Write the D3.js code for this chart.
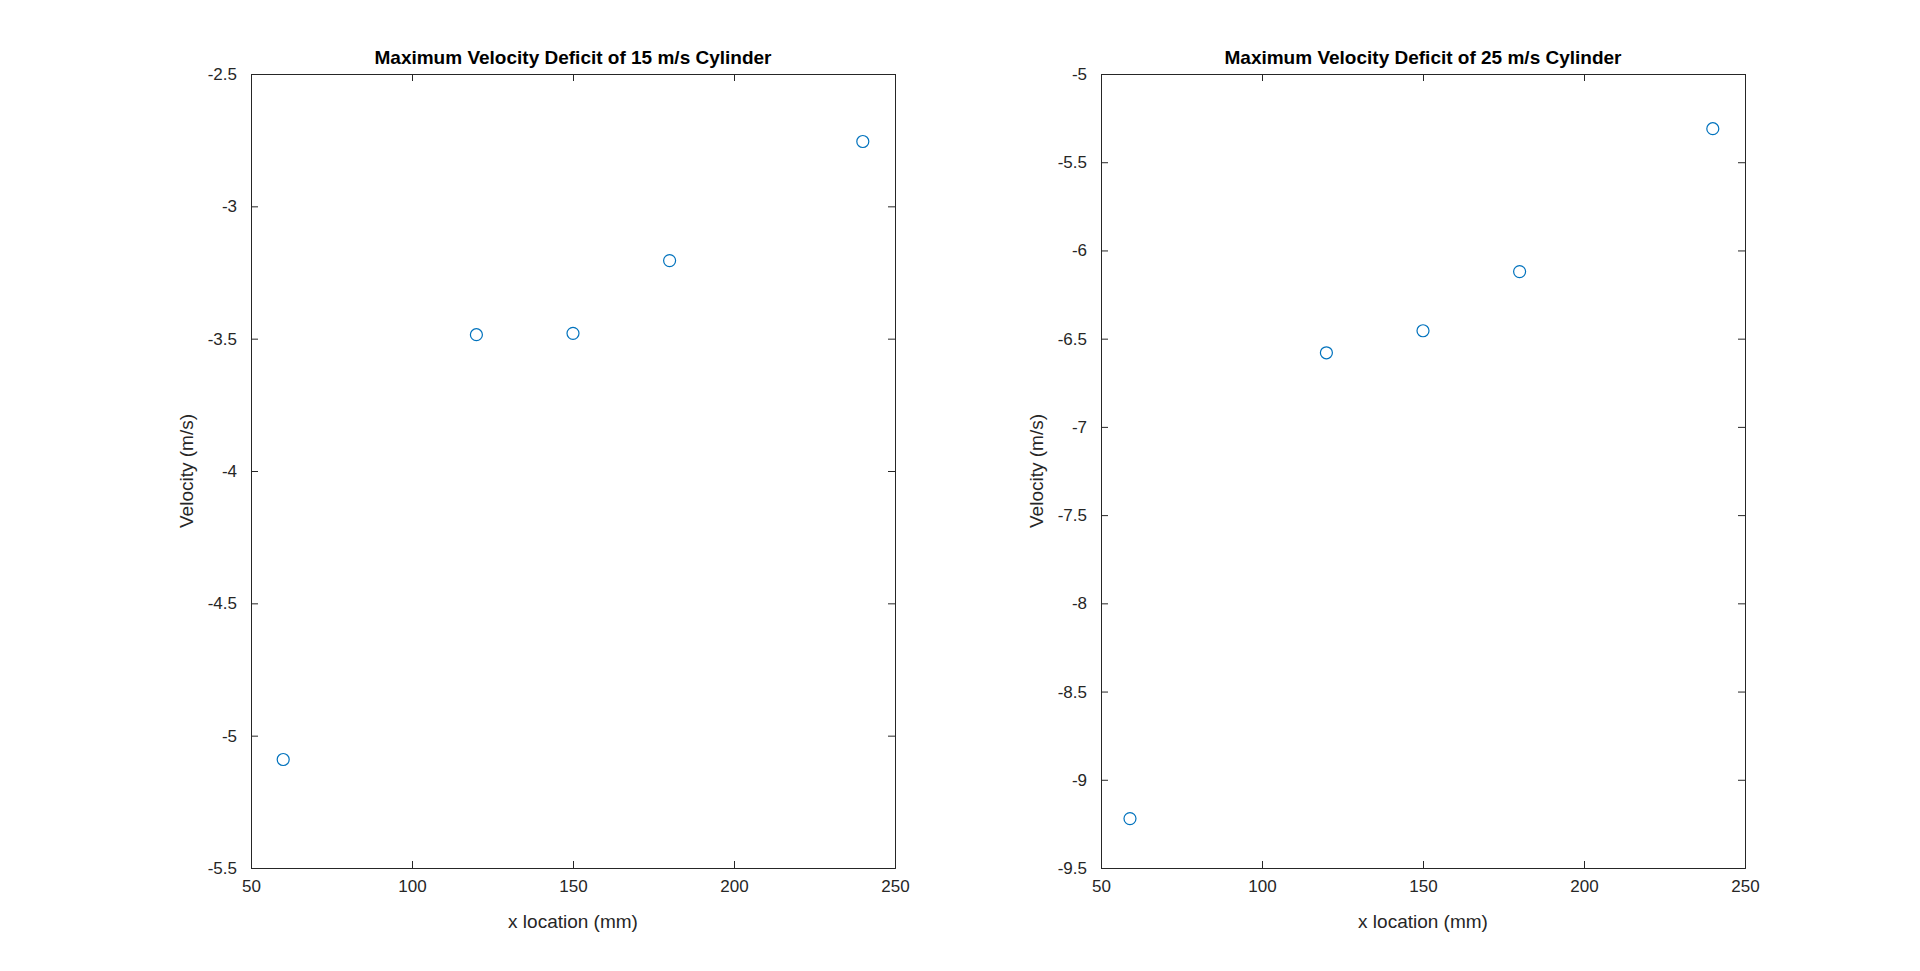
<!DOCTYPE html>
<html><head><meta charset="utf-8">
<script src="https://cdn.jsdelivr.net/npm/d3@7"></script>
<style>body{margin:0;background:#fff}svg{display:block}text{font-family:"Liberation Sans",Arial,sans-serif}</style>
</head><body><div id="chart"></div>
<script>
var xs1 = [60, 120, 150, 180, 240];
var ys1 = [-5.09, -3.485, -3.48, -3.205, -2.755];
var xs2 = [59, 120, 150, 180, 240];
var ys2 = [-9.22, -6.58, -6.455, -6.12, -5.31];
var titles = ["Maximum Velocity Deficit of 15 m/s Cylinder", "Maximum Velocity Deficit of 25 m/s Cylinder"];
var xDomain = [50, 250];
var yDomains = [[-5.5, -2.5], [-9.5, -5]];
var yTicks = [[-5.5,-5,-4.5,-4,-3.5,-3,-2.5], [-9.5,-9,-8.5,-8,-7.5,-7,-6.5,-6,-5.5,-5]];
var xTicks = [50, 100, 150, 200, 250];

var svg = d3.select("#chart").append("svg").attr("width", 1920).attr("height", 971);
var panels = [{left: 251, xs: xs1, ys: ys1}, {left: 1101, xs: xs2, ys: ys2}];
var plotW = 644, plotTop = 74, plotH = 794;

panels.forEach(function(p, i) {
  var g = svg.append("g").attr("transform", "translate(" + p.left + "," + plotTop + ")");
  var x = d3.scaleLinear().domain(xDomain).range([0, plotW]);
  var y = d3.scaleLinear().domain(yDomains[i]).range([plotH, 0]);
  var fmt = function(d) { return String(d); };

  g.append("g").attr("transform", "translate(0," + plotH + ")")
    .call(d3.axisBottom(x).tickValues(xTicks).tickSize(-7).tickPadding(12).tickFormat(fmt));
  g.append("g").call(d3.axisTop(x).tickValues(xTicks).tickSize(-7).tickFormat(""));
  g.append("g").call(d3.axisLeft(y).tickValues(yTicks[i]).tickSize(-7).tickPadding(14).tickFormat(fmt));
  g.append("g").attr("transform", "translate(" + plotW + ",0)")
    .call(d3.axisRight(y).tickValues(yTicks[i]).tickSize(-7).tickFormat(""));
  g.selectAll(".domain").attr("stroke", "#262626");
  g.selectAll(".tick line").attr("stroke", "#262626");
  g.selectAll(".tick text").attr("font-size", 17).attr("fill", "#262626");

  g.append("text").attr("x", plotW / 2).attr("y", -10).attr("text-anchor", "middle")
    .attr("font-size", 19).attr("font-weight", "bold").attr("fill", "#000").text(titles[i]);
  g.append("text").attr("x", plotW / 2).attr("y", plotH + 60).attr("text-anchor", "middle")
    .attr("font-size", 19).attr("fill", "#262626").text("x location (mm)");
  g.append("text").attr("transform", "translate(-58," + (plotH / 2) + ") rotate(-90)")
    .attr("text-anchor", "middle").attr("font-size", 19).attr("fill", "#262626").text("Velocity (m/s)");

  g.selectAll("circle").data(p.xs).enter().append("circle")
    .attr("cx", function(d) { return x(d); })
    .attr("cy", function(d, j) { return y(p.ys[j]); })
    .attr("r", 6).attr("fill", "none").attr("stroke", "#0072BD").attr("stroke-width", 1.2);
});
</script></body></html>
